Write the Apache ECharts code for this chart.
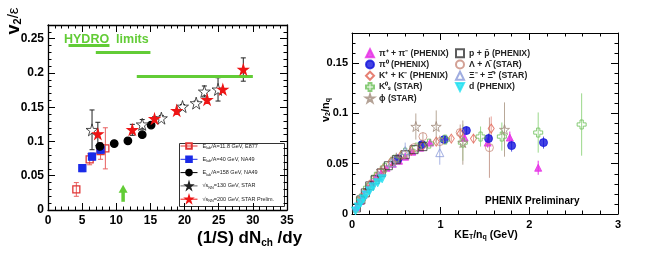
<!DOCTYPE html>
<html><head><meta charset="utf-8">
<script src="https://cdn.jsdelivr.net/npm/echarts@6/dist/echarts.min.js"></script>
<style>html,body{margin:0;padding:0;background:#fff}#c{width:664px;height:259px}</style>
</head><body><div id="c"></div>
<script>
// ---------- Left panel: v2/eps vs (1/S) dNch/dy  [x, y, err] ----------
const e877   = [[4.15,0.030,0.010],[6.1,0.074,0.008],[7.7,0.086,0.012],[8.4,0.090,0.030]];
const na49_40  = [[5.03,0.061,0.005],[6.45,0.078,0.005],[7.7,0.088,0.006]];
const na49_158 = [[7.6,0.093,0.003],[9.7,0.097,0],[11.7,0.101,0],[13.8,0.110,0],[15.1,0.124,0.003]];
const star130  = [[6.45,0.117,0.029],[13.8,0.125,0.007],[16.6,0.134,0.004],[19.7,0.151,0.003],[21.7,0.156,0.003],[22.9,0.173,0.008],[24.9,0.176,0.017]];
const star200  = [[7.3,0.111,0.017],[12.35,0.117,0.008],[15.6,0.133,0.003],[18.85,0.145,0],[23.3,0.161,0],[25.6,0.176,0],[28.6,0.205,0.017]];
const hydroLines = [[3,9,0.240],[7,15,0.230],[13,30,0.195]]; // [xStart, xEnd, y]
const arrowData = [[11, 0.012, 0.037]]; // [x, yBottom, yTop]
const leftXTicks = {min:0, max:35, interval:5};
const leftYTicks = {min:0, max:0.27, interval:0.05};

// ---------- Right panel: v2/nq vs KET/nq  [x, y, err] ----------
const pipm  = [[0.05,0.007,0],[0.09,0.013,0],[0.13,0.019,0],[0.17,0.025,0],[0.22,0.031,0],[0.27,0.036,0],[0.33,0.041,0],[0.39,0.046,0],[0.46,0.050,0],[0.53,0.053,0],[0.60,0.057,0],[0.68,0.062,0],[0.77,0.066,0],[0.88,0.071,0.003],[1.27,0.076,0.004],[1.53,0.071,0.005],[1.78,0.076,0.006],[2.10,0.046,0.007]];
const pi0   = [[0.52,0.055,0.002],[0.79,0.069,0.003],[1.04,0.074,0.003],[1.29,0.083,0.004],[1.54,0.075,0.005],[1.80,0.068,0.006],[2.16,0.071,0.006]];
const kpm   = [[0.08,0.012,0],[0.14,0.021,0],[0.20,0.029,0],[0.27,0.037,0],[0.35,0.045,0],[0.44,0.052,0],[0.55,0.058,0],[0.67,0.063,0],[0.80,0.068,0],[0.95,0.072,0],[1.12,0.075,0.003],[1.22,0.080,0.004],[1.37,0.075,0.004],[1.57,0.085,0.012]];
const k0s   = [[0.10,0.015,0],[0.18,0.026,0],[0.27,0.037,0],[0.37,0.046,0],[0.48,0.054,0],[0.60,0.061,0],[0.73,0.066,0],[0.87,0.070,0],[1.05,0.074,0.004],[1.25,0.071,0.018],[1.45,0.077,0.010],[1.69,0.077,0.014],[2.10,0.081,0.020],[2.59,0.089,0.031]];
const phi   = [[0.33,0.043,0.005],[0.50,0.055,0.006],[0.72,0.087,0.013],[0.95,0.087,0.016],[1.25,0.071,0.022],[1.72,0.084,0.027]];
const ppbar = [[0.05,0.006,0],[0.10,0.014,0],[0.15,0.021,0],[0.20,0.028,0],[0.26,0.034,0],[0.33,0.041,0],[0.41,0.048,0],[0.50,0.054,0],[0.60,0.059,0],[0.70,0.064,0],[0.80,0.067,0]];
const lam   = [[0.12,0.017,0],[0.22,0.030,0],[0.33,0.042,0],[0.45,0.051,0],[0.58,0.059,0],[0.70,0.066,0],[0.80,0.077,0.004],[0.99,0.072,0.006],[1.22,0.081,0.008],[1.55,0.066,0.030]];
const xi    = [[0.30,0.038,0],[0.45,0.051,0],[0.60,0.063,0.008],[0.99,0.061,0.012]];
const deut  = [[0.04,0.003,0],[0.07,0.007,0],[0.10,0.011,0],[0.13,0.015,0],[0.16,0.019,0],[0.20,0.023,0],[0.24,0.027,0],[0.29,0.031,0],[0.34,0.035,0]];
const rightXTicks = {min:0, max:3, interval:1};
const rightYTicks = {min:0, max:0.18, interval:0.05};

const FONT = 'Liberation Sans, Arial, Helvetica, sans-serif';
const GREEN = '#62cc36';
const STAR = 'path://M50,0 L61,35 L98,35 L68,57 L79,91 L50,70 L21,91 L32,57 L2,35 L39,35 Z';
const CROSS = 'path://M32,0 H68 V32 H100 V68 H68 V100 H32 V68 H0 V32 H32 Z';
const DOWNTRI = 'path://M0,0 L100,0 L50,100 Z';
const NONE = 'rgba(255,255,255,0)';

function errSeries(data, xi, yi, color, cap) {
  return {
    type:'custom', xAxisIndex:xi, yAxisIndex:yi, silent:true, z:1,
    data: data.filter(d => d[2] > 0), encode:{x:0, y:1},
    renderItem: (params, api) => {
      const x = api.value(0), y = api.value(1), e = api.value(2);
      const p1 = api.coord([x, y - e]), p2 = api.coord([x, y + e]);
      const st = {stroke:color, lineWidth:1};
      const ch = [{type:'line', shape:{x1:p1[0],y1:p1[1],x2:p2[0],y2:p2[1]}, style:st}];
      if (cap) {
        ch.push({type:'line', shape:{x1:p1[0]-cap,y1:p1[1],x2:p1[0]+cap,y2:p1[1]}, style:st});
        ch.push({type:'line', shape:{x1:p2[0]-cap,y1:p2[1],x2:p2[0]+cap,y2:p2[1]}, style:st});
      }
      return {type:'group', children:ch};
    }
  };
}

function axis(kind, grid, t, pos, showLabel, fs, minorSplit, lw) {
  return {
    type:'value', gridIndex:grid, position:pos, min:t.min, max:t.max, interval:t.interval,
    axisLine:{show:true, onZero:false, lineStyle:{color:'#000', width:lw}},
    axisTick:{show:true, inside:true, length:7, lineStyle:{color:'#000', width:1}},
    minorTick:{show:true, splitNumber:minorSplit, length:3.5, lineStyle:{color:'#000', width:1}},
    splitLine:{show:false}, minorSplitLine:{show:false},
    axisLabel:{show:showLabel, color:'#000', fontFamily:FONT, fontWeight:'bold', fontSize:fs, margin: kind==='x'?5:4,
      showMaxLabel: kind==='x', showMinLabel:true}
  };
}

// Left panel series
const leftDefs = [
  {name:'E877', data:e877, symbol:'rect', size:7, fill:NONE, stroke:'#e03535', err:'#e86060'},
  {name:'NA49_40', data:na49_40, symbol:'rect', size:7, fill:'#1a2ae8', stroke:'#1a2ae8', err:'#1a2ae8'},
  {name:'NA49_158', data:na49_158, symbol:'circle', size:7.5, fill:'#000', stroke:'#000', err:'#000'},
  {name:'STAR130', data:star130, symbol:STAR, size:12, fill:'#fff', stroke:'#222', err:'#222', line:'#666', bw:0.8},
  {name:'STAR200', data:star200, symbol:STAR, size:9.5, fill:'#ee1515', stroke:'#ee1515', err:'#222'}
];
const leftNames = {
  'E877':'{n|E}{s|lab}{n|/A=11.8 GeV, E877}',
  'NA49_40':'{n|E}{s|lab}{n|/A=40 GeV, NA49}',
  'NA49_158':'{n|E}{s|lab}{n|/A=158 GeV, NA49}',
  'STAR130':'{n|√}{n|s}{s|NN}{n|=130 GeV, STAR}',
  'STAR200':'{n|√}{n|s}{s|NN}{n|=200 GeV, STAR Prelim.}'
};

const series = [];
hydroLines.forEach(h => {
  series.push({type:'line', xAxisIndex:0, yAxisIndex:0, data:[[h[0],h[2]],[h[1],h[2]]], symbol:'none', silent:true,
    lineStyle:{color:GREEN, width:3}, z:2});
});
series.push({
  type:'custom', xAxisIndex:0, yAxisIndex:0, silent:true, z:3, data:arrowData, encode:{x:0, y:1},
  renderItem:(params, api) => {
    const b = api.coord([api.value(0), api.value(1)]), t = api.coord([api.value(0), api.value(2)]);
    const hh = 8, hw = 4.5;
    return {type:'group', children:[
      {type:'line', shape:{x1:b[0],y1:b[1],x2:t[0],y2:t[1]+hh-1}, style:{stroke:GREEN, lineWidth:3.5}},
      {type:'polygon', shape:{points:[[t[0]-hw,t[1]+hh],[t[0]+hw,t[1]+hh],[t[0],t[1]]]}, style:{fill:GREEN}}
    ]};
  }
});
leftDefs.forEach(d => {
  series.push(errSeries(d.data, 0, 0, d.err, 2.5));
  series.push({type:'line', name:d.name, xAxisIndex:0, yAxisIndex:0, data:d.data.map(p=>[p[0],p[1]]),
    symbol:d.symbol, symbolSize:d.size, showSymbol:true, showAllSymbol:true,
    lineStyle:{opacity:0, width:1, color:d.line||d.stroke},
    itemStyle:{color:d.fill, borderColor:d.stroke, borderWidth:d.bw||1.3}, z:5});
});

// Right panel series
const rightDefs = [
  {name:'π⁺ + π⁻ (PHENIX)', data:pipm, symbol:'triangle', size:7, fill:'#e62ee6', stroke:'#e62ee6', err:'#e62ee6'},
  {name:'π⁰ (PHENIX)', data:pi0, symbol:'circle', size:8, fill:'#1414dc', stroke:'#1414dc', err:'#5555e0'},
  {name:'K⁺ + K⁻ (PHENIX)', data:kpm, symbol:'diamond', size:[6,9], fill:NONE, stroke:'#e06050', err:'#e8a098'},
  {name:'K⁰ₛ (STAR)', data:k0s, symbol:CROSS, size:9, fill:NONE, stroke:'#6cbf58', err:'#9ad88a'},
  {name:'ϕ (STAR)', data:phi, symbol:STAR, size:10, fill:NONE, stroke:'#a08a7a', err:'#b8a898'},
  {name:'p + p̄ (PHENIX)', data:ppbar, symbol:'rect', size:8, fill:NONE, stroke:'#333', err:'#555'},
  {name:'Λ + Λ̄ (STAR)', data:lam, symbol:'circle', size:8, fill:NONE, stroke:'#c88a7a', err:'#c8a094'},
  {name:'Ξ⁻ + Ξ̄⁺ (STAR)', data:xi, symbol:'triangle', size:8, fill:NONE, stroke:'#8898d8', err:'#a8b4e4'},
  {name:'d (PHENIX)', data:deut, symbol:DOWNTRI, size:8, fill:'#22e0f0', stroke:'#22e0f0', err:'#22e0f0'}
];
rightDefs.forEach(d => {
  series.push(errSeries(d.data, 2, 2, d.err, 0));
  series.push({type:'scatter', name:d.name, xAxisIndex:2, yAxisIndex:2, data:d.data.map(p=>[p[0],p[1]]),
    symbol:d.symbol, symbolSize:d.size,
    itemStyle:{color:d.fill, borderColor:d.stroke, borderWidth:1}, z:5});
});

const option = {
  backgroundColor:'#fff',
  animation:false,
  textStyle:{fontFamily:FONT},
  grid:[
    {left:48, top:25, width:239, height:185},
    {left:352, top:33, width:266, height:181}
  ],
  xAxis:[
    axis('x',0,leftXTicks,'bottom',true,12,5,1.3),
    axis('x',0,leftXTicks,'top',false,12,5,1.3),
    axis('x',1,rightXTicks,'bottom',true,11,5,1),
    axis('x',1,rightXTicks,'top',false,11,5,1)
  ],
  yAxis:[
    axis('y',0,leftYTicks,'left',true,12,5,1.3),
    axis('y',0,leftYTicks,'right',false,12,5,1.3),
    axis('y',1,rightYTicks,'left',true,11,5,1),
    axis('y',1,rightYTicks,'right',false,11,5,1)
  ],
  legend:[
    {data:leftDefs.map(d=>d.name), orient:'vertical', left:180, top:142, padding:0, itemGap:5.3,
     itemWidth:17, itemHeight:7, selectedMode:false,
     lineStyle:{opacity:1, width:1},
     formatter:n => leftNames[n],
     textStyle:{fontSize:5.5, color:'#222', lineHeight:8,
       rich:{n:{fontSize:5.5, color:'#222'}, s:{fontSize:3.8, color:'#222', verticalAlign:'bottom', padding:[3,0,0,0]}}}},
    {data:rightDefs.slice(0,5).map(d=>d.name), orient:'vertical', left:365, top:47.5, padding:0, itemGap:0,
     itemWidth:8, itemHeight:8, selectedMode:false,
     textStyle:{fontSize:8.7, fontWeight:'bold', color:'#222', lineHeight:11.3}},
    {data:rightDefs.slice(5).map(d=>d.name), orient:'vertical', left:455, top:47.5, padding:0, itemGap:0,
     itemWidth:8, itemHeight:8, selectedMode:false,
     textStyle:{fontSize:8.7, fontWeight:'bold', color:'#222', lineHeight:11.3}}
  ],
  graphic:[
    {type:'rect', left:177, top:141, shape:{width:105, height:63}, style:{fill:'none', stroke:'#333', lineWidth:1}, z:0, silent:true},
    {type:'text', left:64, top:33, style:{text:'HYDRO  limits', fill:GREEN, font:'bold 12.5px '+FONT}, z:10},
    {type:'text', left:197, top:230, style:{text:'{a|(1/S) dN}{b|ch}{a| /dy}', font:'bold 17px '+FONT, fill:'#000',
      rich:{a:{font:'bold 17px '+FONT, fill:'#000'}, b:{font:'bold 10px '+FONT, fill:'#000', padding:[9,0,0,0]}}}},
    {type:'text', x:14, y:21, rotation:Math.PI/2, style:{text:'{a|v}{b|2}{c|/ε}', align:'center', verticalAlign:'middle',
      rich:{a:{font:'bold 18px '+FONT, fill:'#000'}, b:{font:'bold 11px '+FONT, fill:'#000', padding:[8,0,0,0]}, c:{font:'15px '+FONT, fill:'#000'}}}},
    {type:'text', x:326, y:110, rotation:Math.PI/2, style:{text:'{a|v}{b|2}{a|/n}{b|q}', align:'center', verticalAlign:'middle',
      rich:{a:{font:'bold 11px '+FONT, fill:'#000'}, b:{font:'bold 7px '+FONT, fill:'#000', padding:[5,0,0,0]}}}},
    {type:'text', x:486, y:235, style:{text:'{a|KE}{b|T}{a|/n}{b|q}{a| (GeV)}', align:'center', verticalAlign:'middle',
      rich:{a:{font:'bold 10.5px '+FONT, fill:'#000'}, b:{font:'bold 7px '+FONT, fill:'#000', padding:[5,0,0,0]}}}},
    {type:'text', left:485, top:196, style:{text:'PHENIX Preliminary', font:'bold 10px '+FONT, fill:'#000'}}
  ],
  series: series
};
const chart = echarts.init(document.getElementById('c'));
chart.setOption(option);
</script>
</body></html>
